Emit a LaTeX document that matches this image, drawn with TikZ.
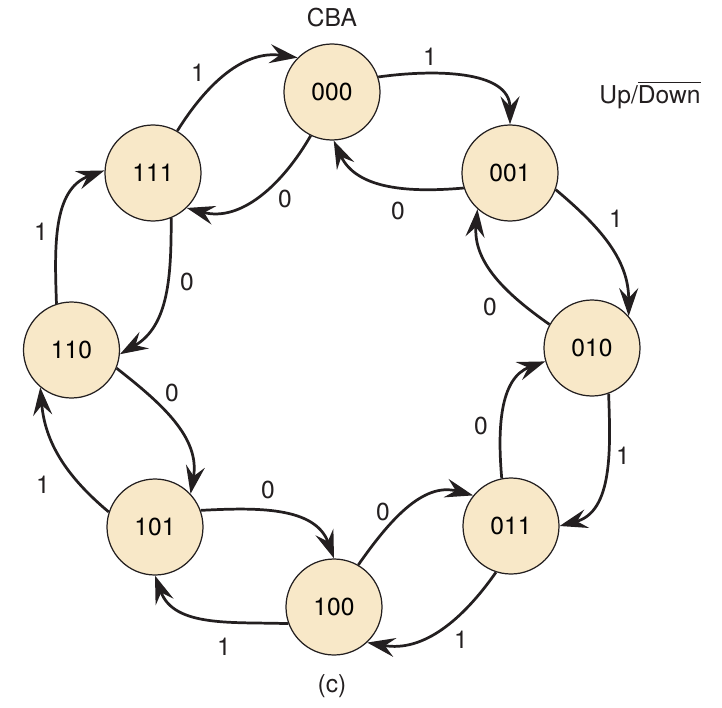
\documentclass[tikz,border=0pt]{standalone}
\usepackage{fontspec}
\setmainfont{TeX Gyre Heros}
\usetikzlibrary{arrows.meta}
\definecolor{statefill}{RGB}{248,232,200}
\definecolor{ink}{RGB}{35,31,32}
\begin{document}
\begin{tikzpicture}[
		state/.style={circle, draw=ink, line width=0.7pt, fill=statefill, minimum size=1.92cm, inner sep=0pt, font=\fontsize{14}{16}\selectfont},
		trans/.style={ink, line width=1.55pt, -{Stealth[length=5.6mm,width=3.8mm,inset=2mm]}},
		lbl/.style={text=ink, inner sep=0pt, font=\fontsize{14}{16}\selectfont}]
			\useasboundingbox (-6.64,-7.14) rectangle (7.8,7.0);
			% states
			\node[state] (n000) at (0,5.16) {000};
			\node[state] (n001) at (3.56,3.54) {001};
			\node[state] (n010) at (5.2,0.04) {010};
			\node[state] (n011) at (3.58,-3.52) {011};
			\node[state] (n100) at (0.04,-5.14) {100};
			\node[state] (n101) at (-3.54,-3.54) {101};
			\node[state] (n110) at (-5.21,0) {110};
			\node[state] (n111) at (-3.58,3.54) {111};
			% counting up
			\draw[trans] (n000.18) to[out=8,in=90] (n001.90);
			\draw[trans] (n001.-20) to[out=-40,in=90] (n010.41);
			\draw[trans] (n010.-70) to[out=-88,in=15] (n011.0);
			\draw[trans] (n011.-108) to[out=-125,in=-10] (n100.-47);
			\draw[trans] (n100.200) to[out=178,in=-70] (n101.-90);
			\draw[trans] (n101.162) to[out=140,in=-85] (n110.230);
			\draw[trans] (n110.108) to[out=92,in=200] (n111.177);
			\draw[trans] (n111.60) to[out=58,in=172] (n000.135);
			% counting down
			\draw[trans] (n001.198) to[out=185,in=-65] (n000.-88);
			\draw[trans] (n010.151) to[out=145,in=-95] (n001.228);
			\draw[trans] (n011.101) to[out=95,in=200] (n010.196);
			\draw[trans] (n100.60) to[out=55,in=165] (n011.141);
			\draw[trans] (n101.20) to[out=3,in=110] (n100.90);
			\draw[trans] (n110.-22) to[out=-38,in=80] (n101.43);
			\draw[trans] (n111.-68) to[out=-90,in=30] (n110.-5);
			\draw[trans] (n000.-116) to[out=-120,in=-15] (n111.-46);
			% input values
			\node[lbl] (u0) at (1.96,5.86) {1};
			\node[lbl] (u1) at (5.68,2.62) {1};
			\node[lbl] (u2) at (5.82,-2.12) {1};
			\node[lbl] (u3) at (2.58,-5.8) {1};
			\node[lbl] (u4) at (-2.16,-5.94) {1};
			\node[lbl] (u5) at (-5.78,-2.7) {1};
			\node[lbl] (u6) at (-5.82,2.36) {1};
			\node[lbl] (u7) at (-2.68,5.54) {1};
			\node[lbl] (d0) at (1.32,2.78) {0};
			\node[lbl] (d1) at (3.16,0.86) {0};
			\node[lbl] (d2) at (2.98,-1.52) {0};
			\node[lbl] (d3) at (1.02,-3.24) {0};
			\node[lbl] (d4) at (-1.28,-2.8) {0};
			\node[lbl] (d5) at (-3.2,-0.86) {0};
			\node[lbl] (d6) at (-2.9,1.36) {0};
			\node[lbl] (d7) at (-0.94,3.02) {0};
			% titles
			\node[lbl] (cba) at (0,6.64) {CBA};
			\node[lbl] (updown) at (6.36,5.1) {Up/$\overline{\mbox{Down}}$};
			\node[lbl] (part) at (0,-6.72) {(c)};
		\end{tikzpicture}
\end{document}
